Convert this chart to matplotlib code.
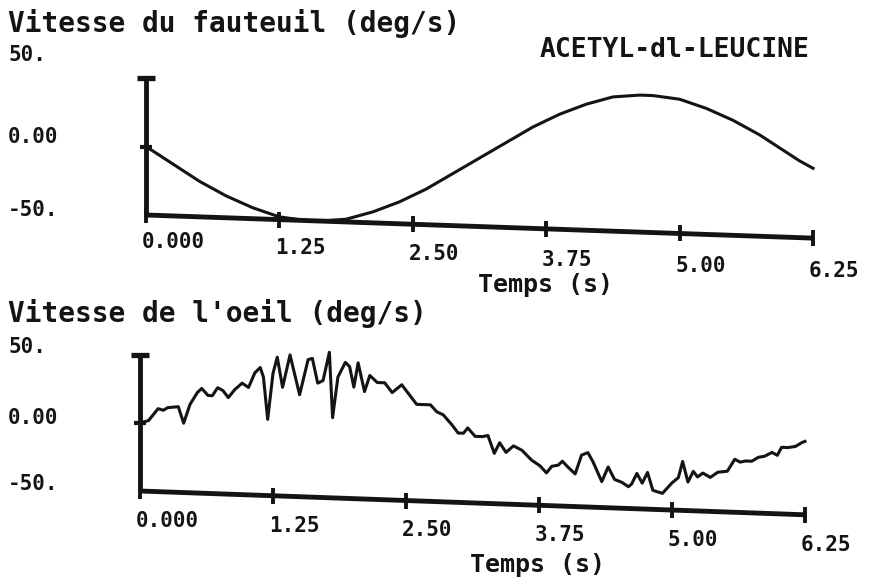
import numpy as np
import matplotlib
matplotlib.use("Agg")
import matplotlib.pyplot as plt
from matplotlib.transforms import Affine2D

t_fauteuil = [0.0, 0.125, 0.25, 0.375, 0.5, 0.625, 0.75, 0.875, 1.0, 1.125,
              1.25, 1.375, 1.5, 1.625, 1.75, 1.875, 2.0, 2.125, 2.25, 2.375,
              2.5, 2.625, 2.75, 2.875, 3.0, 3.125, 3.25, 3.375, 3.5, 3.625,
              3.75, 3.875, 4.0, 4.125, 4.25, 4.375, 4.5, 4.625, 4.75, 4.875,
              5.0, 5.125, 5.25, 5.375, 5.5, 5.625, 5.75, 5.875, 6.0, 6.125,
              6.25]
v_fauteuil = [0, -6, -12, -18, -24, -29, -34, -38, -42, -45,
              -48, -49, -50, -50, -49, -48, -45, -42, -38, -34,
              -29, -24, -18, -12, -6, 0, 6, 12, 18, 24,
              29, 34, 38, 42, 45, 48, 49, 50, 50, 49,
              48, 45, 42, 38, 34, 29, 24, 18, 12, 6,
              1]

# vitesse de l'oeil (deg/s)
t_oeil = [0.0, 0.08, 0.17, 0.22, 0.26, 0.36, 0.41, 0.47, 0.54, 0.58,
          0.64, 0.68, 0.73, 0.78, 0.83, 0.89, 0.96, 1.02, 1.08, 1.13,
          1.16, 1.20, 1.25, 1.29, 1.34, 1.41, 1.50, 1.58, 1.62, 1.67,
          1.72, 1.78, 1.81, 1.86, 1.93, 1.97, 2.01, 2.05, 2.11, 2.16,
          2.23, 2.30, 2.37, 2.46, 2.52, 2.60, 2.65, 2.73, 2.79, 2.85,
          2.93, 2.99, 3.04, 3.08, 3.15, 3.22, 3.27, 3.33, 3.38, 3.44,
          3.51, 3.59, 3.68, 3.76, 3.82, 3.87, 3.93, 3.97, 4.02, 4.09,
          4.15, 4.21, 4.26, 4.34, 4.40, 4.46, 4.53, 4.59, 4.62, 4.67,
          4.72, 4.77, 4.82, 4.91, 5.00, 5.06, 5.10, 5.15, 5.20, 5.24,
          5.29, 5.36, 5.43, 5.52, 5.59, 5.64, 5.69, 5.75, 5.81, 5.87,
          5.94, 5.99, 6.03, 6.09, 6.16, 6.22, 6.25]
v_oeil = [0, 2, 11, 10, 12, 13, 1, 15, 24, 27,
          22, 22, 28, 26, 21, 27, 32, 29, 40, 44,
          37, 6, 40, 52, 30, 54, 25, 51, 52, 34,
          36, 57, 9, 39, 50, 47, 32, 50, 29, 41,
          36, 36, 29, 35, 29, 21, 21, 21, 16, 14,
          7, 1, 1, 5, -1, -1, 0, -13, -5, -12,
          -7, -10, -17, -21, -26, -21, -20, -17, -21, -26,
          -12, -10, -17, -31, -20, -29, -31, -34, -32, -24,
          -31, -23, -36, -38, -30, -26, -14, -29, -21, -25,
          -22, -25, -21, -20, -11, -13, -12, -12, -9, -8,
          -5, -7, -1, -1, 0, 3, 4]

x_ticks = [0.0, 1.25, 2.50, 3.75, 5.00, 6.25]
x_labels = ["0.000", "1.25", "2.50", "3.75", "5.00", "6.25"]
y_labels = ["50.", "0.00", "-50."]

W, H = 873, 585
ink = "#141414"
font = "DejaVu Sans Mono"

fig = plt.figure(figsize=(W / 100, H / 100), dpi=100)
fig.patch.set_facecolor("white")


def px_axes(left, right, top, bottom):
    return fig.add_axes([left / W, 1 - bottom / H, (right - left) / W, (bottom - top) / H])


def ftext(x, y, s, size, **kw):
    fig.text(x / W, 1 - y / H, s, fontsize=size, fontfamily=font,
             fontweight="bold", color=ink, va="center", **kw)


def shear_of(ax, k):
    return Affine2D(np.array([[1, 0, 0], [-k, 1, 0], [0, 0, 1]])) + ax.transData


def panel(ax, t, v, k, k_lab, lab_off):
    ax.set_xlim(0, 6.25)
    ax.set_ylim(-50, 50)
    ax.axis("off")
    # le trace scanne est legerement cisaille : l'axe des temps descend vers la droite
    shear = shear_of(ax, k)
    kw = dict(transform=shear, color=ink, clip_on=False)
    ax.plot([0, 6.25], [-50, -50], lw=3.5, solid_capstyle="butt", **kw)
    ax.plot([0, 0], [-50, 50], lw=3.5, solid_capstyle="butt", **kw)
    ax.plot(x_ticks, [-50] * len(x_ticks), ls="none", marker="|", ms=11, mew=2.8, **kw)
    ax.plot([0], [50], ls="none", marker="_", ms=13, mew=3.8, **kw)
    ax.plot([0], [0], ls="none", marker="_", ms=9, mew=3, **kw)
    ax.plot(t, v, lw=2.2, solid_joinstyle="round", **kw)
    lab_tr = shear_of(ax, k_lab)
    for xt, lab in zip(x_ticks, x_labels):
        ax.text(xt - 0.04, -50 - lab_off, lab, transform=lab_tr, fontsize=15,
                fontfamily=font, fontweight="bold", color=ink,
                ha="left", va="center", clip_on=False)


ax1 = px_axes(146, 813, 78, 215)
panel(ax1, t_fauteuil, v_fauteuil, 2.7, 3.4, 20)
ax2 = px_axes(140, 805, 355, 491)
panel(ax2, t_oeil, v_oeil, 2.8, 2.8, 22)

ftext(8, 23, "Vitesse du fauteuil (deg/s)", 20)
ftext(540, 50, "ACETYL-dl-LEUCINE", 19)
ftext(8, 313, "Vitesse de l'oeil (deg/s)", 20)
for yy, lab in zip([55, 137, 210], y_labels):
    ftext(8, yy, lab, 15)
for yy, lab in zip([347, 418, 484], y_labels):
    ftext(8, yy, lab, 15)
ftext(545, 285, "Temps (s)", 18, ha="center")
ftext(538, 565, "Temps (s)", 18, ha="center")

fig.savefig("out.png", dpi=100, facecolor="white")
